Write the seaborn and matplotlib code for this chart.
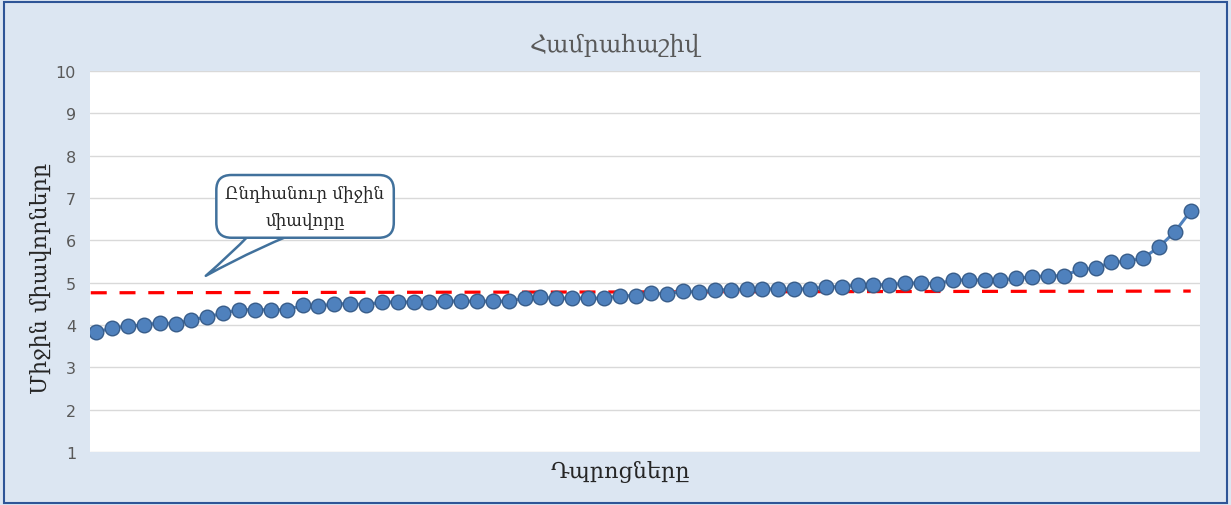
import matplotlib
matplotlib.use("Agg")
import matplotlib.pyplot as plt
from matplotlib.patches import Rectangle
import seaborn as sns
import pandas as pd

# data (schools sorted by average score)
scores = [3.83, 3.93, 3.97, 4.00, 4.05, 4.03, 4.12, 4.19, 4.28, 4.36,
          4.36, 4.36, 4.36, 4.46, 4.44, 4.50, 4.50, 4.48, 4.54, 4.54,
          4.54, 4.54, 4.57, 4.56, 4.56, 4.56, 4.56, 4.63, 4.65, 4.63,
          4.63, 4.63, 4.63, 4.69, 4.69, 4.75, 4.73, 4.80, 4.77, 4.83,
          4.83, 4.85, 4.85, 4.85, 4.85, 4.85, 4.90, 4.90, 4.95, 4.95,
          4.95, 4.99, 4.99, 4.97, 5.06, 5.06, 5.06, 5.06, 5.10, 5.14,
          5.16, 5.16, 5.31, 5.34, 5.48, 5.50, 5.58, 5.84, 6.20, 6.69]
mean_score = [4.76, 4.80]
y_ticks = [1, 2, 3, 4, 5, 6, 7, 8, 9, 10]

title = "Համրահաշիվ"
x_label = "Դպրոցները"
y_label = "Միջին միավորները"
callout = "Ընդհանուր միջին\nմիավորը"

df = pd.DataFrame({"school": range(len(scores)), "score": scores})
mean_df = pd.DataFrame({"school": [-0.35, len(scores) - 1], "score": mean_score})

sns.set_theme(style="white")
plt.rcParams["font.family"] = ["DejaVu Serif"]

bg = "#DCE6F2"
fig = plt.figure(figsize=(12.31, 5.06), dpi=100, facecolor=bg)
ax = fig.add_axes([0.0731, 0.1047, 0.9019, 0.7533])
ax.set_facecolor("white")

sns.lineplot(data=mean_df, x="school", y="score", ax=ax, color="#FF0000",
             linewidth=2.3, dashes=False, zorder=2)
ax.lines[-1].set_dashes([5, 4])
sns.lineplot(data=df, x="school", y="score", ax=ax, color="#4F81BD",
             linewidth=2.2, marker="o", markersize=10.5,
             markerfacecolor="#4F81BD", markeredgecolor="#385D8A",
             markeredgewidth=1.0, zorder=3)

ax.set_xlim(-0.4, len(scores) - 0.4)
ax.set_ylim(1, 10)
ax.set_yticks(y_ticks)
ax.set_xticks([])
ax.grid(axis="y", color="#D9D9D9", linewidth=1.0)
ax.set_axisbelow(True)
for s in ax.spines.values():
    s.set_visible(False)
ax.tick_params(axis="y", length=0, pad=10, labelsize=11.5, labelcolor="#595959")
for lbl in ax.get_yticklabels():
    lbl.set_family("DejaVu Sans")

ax.set_xlabel(x_label, fontsize=16, color="#262626")
ax.xaxis.set_label_coords(0.478, -0.02)
ax.set_ylabel(y_label, fontsize=16, color="#262626")
ax.yaxis.set_label_coords(-0.034, 0.459)
fig.text(0.4996, 0.91, title, ha="center", va="center", fontsize=17,
         color="#595959")

ax.annotate(callout, xy=(6.9, 5.16), xytext=(13.16, 6.80),
            ha="center", va="center", fontsize=12, color="#262626",
            linespacing=1.8,
            bbox=dict(boxstyle="round,pad=0.55,rounding_size=0.9",
                      fc="white", ec="#41719C", lw=1.8),
            arrowprops=dict(arrowstyle="wedge,tail_width=2.6,shrink_factor=0.4",
                            fc="white", ec="#41719C", lw=1.8,
                            patchA=None, shrinkA=0, shrinkB=0),
            zorder=5)

fig.patches.append(Rectangle((0.003, 0.003), 0.994, 0.992,
                             transform=fig.transFigure, fill=False,
                             ec="#2E5597", lw=1.5))

fig.savefig("out.png", dpi=100, facecolor=bg)
